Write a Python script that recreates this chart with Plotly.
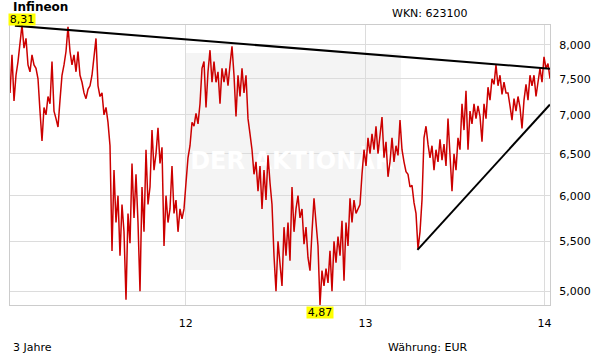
import math
import pandas as pd
import plotly.graph_objects as go

# ---- data ----
title_text = "Infineon"
wkn_text = "WKN: 623100"
period_text = "3 Jahre"
currency_text = "Währung: EUR"
watermark_text = "DER AKTIONÄR"

start_date = "2011-01-08"
end_date = "2014-01-12"

prices = [
    7.30, 7.85, 7.19, 7.55, 7.75, 8.00, 8.31, 7.95, 8.10, 7.70,
    7.60, 7.85, 7.70, 7.65, 7.50, 7.05, 6.66, 7.10, 7.00, 7.25,
    7.15, 7.75, 7.05, 6.95, 6.84, 7.20, 7.55, 7.70, 7.90, 8.28,
    7.90, 7.70, 7.85, 7.60, 7.90, 7.55, 7.45, 7.30, 7.22, 7.35,
    7.40, 7.55, 7.80, 8.10, 7.40, 7.25, 7.30, 7.00, 7.10, 6.90,
    6.60, 5.40, 6.30, 5.70, 6.00, 5.35, 5.90, 5.60, 4.92, 5.80,
    5.48, 6.38, 5.75, 6.25, 5.70, 5.00, 6.10, 5.60, 6.55, 5.90,
    6.10, 6.80, 6.30, 6.50, 6.83, 6.38, 6.58, 5.45, 6.00, 5.70,
    5.85, 6.35, 5.80, 5.95, 5.60, 5.85, 5.74, 5.85, 6.15, 6.45,
    6.60, 6.90, 6.85, 7.02, 6.88, 7.15, 7.65, 7.75, 7.10, 7.60,
    7.92, 7.45, 7.75, 7.45, 7.60, 7.15, 7.65, 7.45, 7.65, 7.40,
    7.70, 7.98, 7.55, 6.98, 7.55, 7.25, 7.65, 7.30, 7.55, 6.95,
    6.75, 6.55, 6.25, 6.40, 6.05, 6.35, 5.85, 6.30, 5.95, 6.48,
    6.15, 5.90, 5.35, 5.00, 5.50, 5.25, 5.05, 5.65, 5.35, 5.70,
    5.30, 6.10, 5.60, 5.85, 6.00, 5.75, 5.85, 5.47, 5.65, 5.33,
    5.20, 5.60, 5.97, 5.70, 5.45, 4.87, 5.20, 5.05, 5.22, 5.08,
    5.40, 5.00, 5.50, 5.28, 5.55, 5.35, 5.72, 5.10, 5.70, 5.45,
    5.97, 5.70, 5.95, 5.80, 5.86, 5.90, 6.25, 6.55, 6.35, 6.70,
    6.50, 6.75, 6.55, 6.85, 6.50, 6.75, 6.97, 6.45, 6.65, 6.22,
    6.40, 6.70, 6.40, 6.60, 6.48, 6.93, 6.55, 6.40, 6.28, 6.25,
    6.10, 6.12, 5.92, 5.80, 5.42, 5.60, 5.95, 6.70, 6.85, 6.62,
    6.45, 6.60, 6.30, 6.55, 6.40, 6.68, 6.42, 6.62, 6.35, 6.95,
    6.45, 6.05, 6.50, 6.30, 6.70, 6.55, 7.15, 6.80, 7.33, 6.55,
    7.05, 6.88, 7.15, 6.95, 7.12, 6.98, 6.65, 7.15, 6.95, 7.38,
    7.20, 7.50, 7.42, 7.70, 7.40, 7.55, 7.28, 7.45, 7.30, 7.30,
    7.12, 6.93, 7.22, 7.05, 7.25, 7.10, 6.82, 7.20, 7.42, 7.20,
    7.55, 7.40, 7.55, 7.25, 7.45, 7.65, 7.45, 7.82, 7.65, 7.72,
    7.50,
]

trend_upper_dates = ["2011-01-18", "2014-01-12"]
trend_upper_values = [8.30, 7.645]
trend_lower_dates = ["2013-04-17", "2014-01-12"]
trend_lower_values = [5.41, 7.14]

y_tick_values = [5.0, 5.5, 6.0, 6.5, 7.0, 7.5, 8.0]

# ---- build ----
dates = pd.date_range(start_date, end_date, periods=len(prices))
pmin, pmax = min(prices), max(prices)
i_min, i_max = prices.index(pmin), prices.index(pmax)

FONT = "DejaVu Sans"
W, H = 611, 364
L, R, T, B = 10, 550, 25, 305
PW, PH = R - L, B - T


def px(xp):
    return (xp - L) / PW


def py(yp):
    return (B - yp) / PH


def de(v):
    return f"{v:.2f}".replace(".", ",")


fig = go.Figure()

# faint watermark text (drawn under the price line)
fig.add_trace(go.Scatter(
    x=[pd.Timestamp("2012-08-04")], y=[6.39], mode="text",
    text=[watermark_text],
    textfont=dict(family=FONT, size=24, color="#ffffff", weight="bold"),
    hoverinfo="skip", showlegend=False,
))

fig.add_trace(go.Scatter(
    x=dates, y=prices, mode="lines",
    line=dict(color="#cc0000", width=1.5),
    hoverinfo="skip", showlegend=False,
))

fig.add_trace(go.Scatter(
    x=pd.to_datetime(trend_upper_dates), y=trend_upper_values, mode="lines",
    line=dict(color="#000000", width=2), hoverinfo="skip", showlegend=False,
))
fig.add_trace(go.Scatter(
    x=pd.to_datetime(trend_lower_dates), y=trend_lower_values, mode="lines",
    line=dict(color="#000000", width=2), hoverinfo="skip", showlegend=False,
))

annotations = [
    dict(xref="paper", yref="paper", x=px(12), y=py(6.5), xanchor="left",
         yanchor="middle", text=f"<b>{title_text}</b>", showarrow=False,
         height=12, borderpad=0,
         font=dict(family=FONT, size=12, color="#000000")),
    dict(xref="paper", yref="paper", x=px(390), y=py(14), xanchor="left",
         yanchor="middle", text=wkn_text, showarrow=False,
         font=dict(family=FONT, size=11, color="#000000")),
    dict(xref="paper", yref="paper", x=px(11), y=py(347), xanchor="left",
         yanchor="middle", text=period_text, showarrow=False,
         font=dict(family=FONT, size=11, color="#000000")),
    dict(xref="paper", yref="paper", x=px(386), y=py(347), xanchor="left",
         yanchor="middle", text=currency_text, showarrow=False,
         font=dict(family=FONT, size=11, color="#000000")),
    dict(x=dates[i_max], y=math.log10(pmax), xref="x", yref="y",
         text=de(pmax), showarrow=False, yanchor="bottom", yshift=-1,
         bgcolor="#ffff00", borderpad=0, width=26, height=11,
         font=dict(family=FONT, size=11, color="#000000")),
    dict(x=dates[i_min], y=math.log10(pmin), xref="x", yref="y",
         text=de(pmin), showarrow=False, yanchor="top", yshift=-1,
         bgcolor="#ffff00", borderpad=0, width=26, height=11,
         font=dict(family=FONT, size=11, color="#000000")),
]

shapes = [
    dict(type="rect", xref="paper", yref="paper",
         x0=px(185), x1=px(401), y0=py(270), y1=py(53),
         fillcolor="#f4f4f4", line=dict(width=0), layer="below"),
]

fig.update_layout(
    width=W, height=H,
    margin=dict(l=L, r=W - R, t=T, b=H - B, pad=0),
    paper_bgcolor="#ffffff", plot_bgcolor="#ffffff",
    separators=",.",
    font=dict(family=FONT, size=11, color="#000000"),
    showlegend=False, hovermode=False,
    annotations=annotations, shapes=shapes,
    xaxis=dict(
        type="date",
        range=[pd.Timestamp(start_date), pd.Timestamp(end_date)],
        tick0="2012-01-01", dtick="M12", tickformat="%y",
        showgrid=True, gridcolor="#dcdcdc", gridwidth=1,
        showline=True, linecolor="#cccccc", linewidth=1, mirror=True,
        ticks="", ticklabelstandoff=8, zeroline=False,
        tickfont=dict(family=FONT, size=11, color="#000000"),
    ),
    yaxis=dict(
        type="log", side="right",
        range=[math.log10(pmin), math.log10(pmax)],
        tickvals=y_tick_values, tickformat=".3f",
        showgrid=True, gridcolor="#dcdcdc", gridwidth=1,
        showline=True, linecolor="#cccccc", linewidth=1, mirror=True,
        ticks="", ticklabelstandoff=6, zeroline=False,
        tickfont=dict(family=FONT, size=11, color="#000000"),
    ),
)

fig.write_html("out.html")
